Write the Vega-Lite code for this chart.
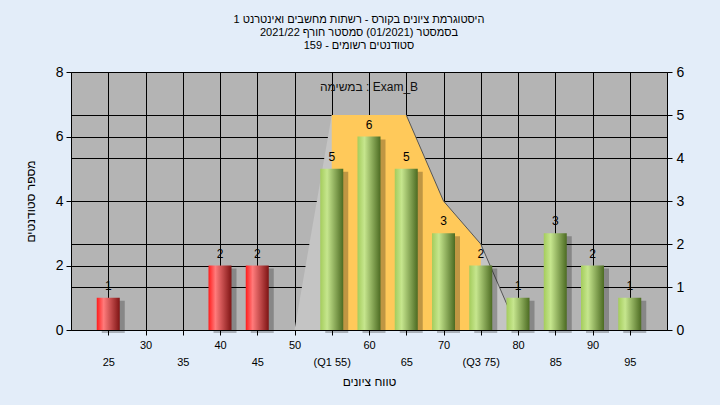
{
  "$schema": "https://vega.github.io/schema/vega-lite/v6.json",
  "width": 596,
  "height": 258,
  "autosize": {"type": "none"},
  "padding": {"left": 71, "top": 72, "right": 53, "bottom": 75},
  "background": "#E3EDF9",
  "title": {
    "text": ["היסטוגרמת ציונים בקורס - רשתות מחשבים ואינטרנט 1", "בסמסטר  (01/2021)  סמסטר חורף 2021/22", "סטודנטים רשומים - 159"],
    "anchor": "middle",
    "font": "Liberation Sans",
    "fontSize": 11,
    "fontWeight": "normal",
    "lineHeight": 13,
    "offset": 14,
    "dx": -10,
    "color": "black"
  },
  "config": {
    "view": {"fill": "#B4B4B4", "stroke": null},
    "axis": {
      "domainColor": "black",
      "tickColor": "black",
      "gridColor": "black",
      "gridOpacity": 1,
      "gridWidth": 1,
      "labelColor": "black",
      "titleColor": "black",
      "labelFont": "Liberation Sans",
      "titleFont": "Liberation Sans",
      "titleFontWeight": "normal",
      "tickSize": 5
    }
  },
  "datasets": {
    "bars": [
      {"grade": 25, "count": 1},
      {"grade": 40, "count": 2},
      {"grade": 45, "count": 2},
      {"grade": 55, "count": 5},
      {"grade": 60, "count": 6},
      {"grade": 65, "count": 5},
      {"grade": 70, "count": 3},
      {"grade": 75, "count": 2},
      {"grade": 80, "count": 1},
      {"grade": 85, "count": 3},
      {"grade": 90, "count": 2},
      {"grade": 95, "count": 1}
    ],
    "curve": [
      {"grade": 50, "v": 0},
      {"grade": 55, "v": 5},
      {"grade": 60, "v": 5},
      {"grade": 65, "v": 5},
      {"grade": 70, "v": 3},
      {"grade": 75, "v": 2},
      {"grade": 80, "v": 0}
    ]
  },
  "layer": [
    {
      "data": {"name": "curve"},
      "encoding": {
        "x": {
          "field": "grade",
          "type": "quantitative",
          "scale": {"domain": [20, 100], "nice": false, "zero": false, "padding": 0},
          "axis": {
            "values": [25, 30, 35, 40, 45, 50, 55, 60, 65, 70, 75, 80, 85, 90, 95],
            "grid": true,
            "title": "טווח ציונים",
            "titleFontSize": 12,
            "titlePadding": 9,
            "labelFontSize": 11,
            "labelExpr": "datum.value % 10 == 0 ? '' + datum.value : ['', datum.value == 55 ? '(Q1 55)' : datum.value == 75 ? '(Q3 75)' : '' + datum.value]",
            "labelOverlap": false,
            "labelFlush": false,
            "labelLineHeight": 17,
            "labelPadding": 4,
            "labelBaseline": "top"
          }
        },
        "y": {
          "field": "v",
          "type": "quantitative",
          "scale": {"domain": [0, 6], "nice": false},
          "axis": {
            "orient": "right",
            "values": [0, 1, 2, 3, 4, 5, 6],
            "grid": true,
            "title": null,
            "labelFontSize": 14,
            "labelPadding": 4
          }
        }
      },
      "layer": [
        {"mark": {"type": "area", "color": "#C4C4C4", "opacity": 1}},
        {
          "transform": [{"filter": "datum.grade >= 55 && datum.grade <= 75"}],
          "mark": {"type": "area", "color": "#FFC95A", "opacity": 1}
        },
        {
          "transform": [{"filter": "datum.grade >= 65"}],
          "mark": {"type": "line", "color": "#555555", "strokeWidth": 1}
        }
      ]
    },
    {
      "data": {"name": "bars"},
      "layer": [
        {
          "mark": {"type": "bar", "width": 23, "color": "black", "opacity": 0.25, "xOffset": 5, "yOffset": 3},
          "encoding": {
            "x": {"field": "grade", "type": "quantitative"},
            "y": {
              "field": "count",
              "type": "quantitative",
              "scale": {"domain": [0, 8], "nice": false},
              "axis": {
                "orient": "left",
                "values": [0, 2, 4, 6, 8],
                "grid": true,
                "title": "מספר סטודנטים",
                "titleColor": "black",
                "titleFontSize": 12,
                "titlePadding": 18,
                "labelFontSize": 14,
                "labelPadding": 3
              }
            }
          }
        },
        {
          "transform": [{"filter": "datum.grade < 50"}],
          "mark": {
            "type": "bar",
            "width": 23,
            "color": {
              "gradient": "linear",
              "x1": 0, "x2": 1, "y1": 0, "y2": 0,
              "stops": [
                {"offset": 0, "color": "#ff1c1c"},
                {"offset": 0.3, "color": "#ff7b7b"},
                {"offset": 1, "color": "#7e1414"}
              ]
            }
          },
          "encoding": {
            "x": {"field": "grade", "type": "quantitative"},
            "y": {"field": "count", "type": "quantitative"}
          }
        },
        {
          "transform": [{"filter": "datum.grade >= 50"}],
          "mark": {
            "type": "bar",
            "width": 23,
            "color": {
              "gradient": "linear",
              "x1": 0, "x2": 1, "y1": 0, "y2": 0,
              "stops": [
                {"offset": 0, "color": "#a4cc5c"},
                {"offset": 0.3, "color": "#c6e68e"},
                {"offset": 1, "color": "#4c6b22"}
              ]
            }
          },
          "encoding": {
            "x": {"field": "grade", "type": "quantitative"},
            "y": {"field": "count", "type": "quantitative"}
          }
        },
        {
          "mark": {"type": "text", "baseline": "bottom", "dy": -5, "fontSize": 12, "font": "Liberation Sans", "color": "black"},
          "encoding": {
            "x": {"field": "grade", "type": "quantitative"},
            "y": {"field": "count", "type": "quantitative"},
            "text": {"field": "count", "type": "quantitative"}
          }
        },
        {
          "data": {"values": [{}]},
          "mark": {"type": "text", "text": "במשימה : Exam_B", "fontSize": 12, "font": "Liberation Sans", "color": "#111111", "baseline": "middle", "align": "center"},
          "encoding": {
            "x": {"datum": 60, "type": "quantitative"},
            "y": {"datum": 7.55, "type": "quantitative"}
          }
        }
      ]
    }
  ],
  "resolve": {"scale": {"y": "independent"}}
}
